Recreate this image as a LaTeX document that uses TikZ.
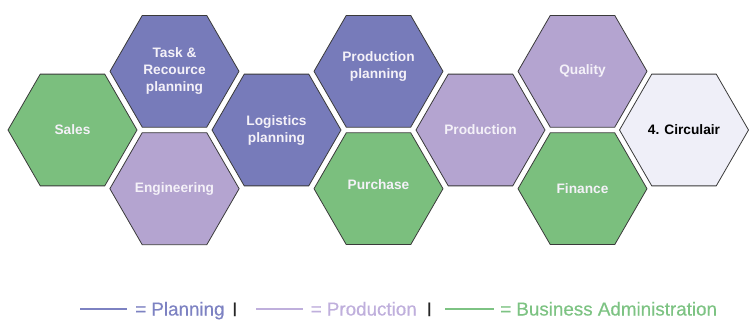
\documentclass[tikz,border=0pt]{standalone}
\usepackage{fontspec}
\setmainfont{Liberation Sans}
\newfontfamily\legfont[FakeBold=0.5]{Liberation Sans}
\usetikzlibrary{shapes.geometric}
\definecolor{plan}{HTML}{777BBA}
\definecolor{prod}{HTML}{B4A4D0}
\definecolor{biz}{HTML}{7BBF7E}
\definecolor{circ}{HTML}{EFEFF8}
\definecolor{edge}{HTML}{3A3A3A}
\definecolor{hextext}{HTML}{F4F1F8}
\definecolor{lplan}{HTML}{7D82C2}
\definecolor{lprod}{HTML}{BFAFDC}
\definecolor{lbiz}{HTML}{7DC383}
\tikzset{
  hexa/.style={regular polygon, regular polygon sides=6, minimum size=129pt,
    inner sep=0pt, draw=edge, line width=0.8pt, align=center,
    text=hextext, font=\fontsize{13.7}{17}\bfseries\selectfont},
  hplan/.style={hexa, fill=plan},
  hprod/.style={hexa, fill=prod},
  hbiz/.style={hexa, fill=biz},
  hcirc/.style={hexa, fill=circ, text=black},
  hlabel/.style={text=hextext, align=center, font=\fontsize{13.7}{17}\bfseries\selectfont},
  legtext/.style={anchor=base west, inner sep=0pt, font=\legfont\fontsize{18.8}{22}\selectfont},
  legline/.style={line width=2pt},
  sepbar/.style={anchor=base, inner sep=0pt, font=\fontsize{14.5}{16}\bfseries\selectfont, text=black!85}
}
\begin{document}
\begin{tikzpicture}[x=1pt,y=-1pt]
\useasboundingbox (0,0) rectangle (749,321);
\node[hbiz]  (sales) at (72.5,130) {Sales};
\node[hplan] (task)  at (174.5,71.3) {Task \&\\Recource\\planning};
\node[hprod] (eng)   at (174.5,188.7) {Engineering};
\node[hplan] (log)   at (276.5,130) {Logistics\\planning};
\node[hplan] (pplan) at (378.5,71.3) {};
\node[hlabel] (pplant) at (378.5,66) {Production\\planning};
\node[hbiz]  (purch) at (378.5,188.7) {};
\node[hlabel] (purcht) at (378.5,185) {Purchase};
\node[hprod] (prodn) at (480.5,130) {Production};
\node[hprod] (qual)  at (582.5,71.3) {Quality};
\node[hbiz]  (fin)   at (582.5,188.7) {Finance};
\node[hcirc] (circ)  at (684,130) {4. Circulair};
% legend
\coordinate (l1a) at (80,308.5); \coordinate (l1b) at (127,308.5);
\coordinate (l2a) at (256,308.5); \coordinate (l2b) at (303,308.5);
\coordinate (l3a) at (445,308.5); \coordinate (l3b) at (494,308.5);
\draw[legline, lplan] (l1a) -- (l1b);
\draw[legline, lprod] (l2a) -- (l2b);
\draw[legline, lbiz] (l3a) -- (l3b);
\node[legtext, text=lplan] (tplan) at (135,315.5) {= Planning};
\node[legtext, text=lprod] (tprod) at (310.5,315.5) {= Production};
\node[legtext, text=lbiz] (tbiz) at (500,315.5) {= Business Administration};
\node[sepbar] (bar1) at (235,313) {|};
\node[sepbar] (bar2) at (429.3,313) {|};
\end{tikzpicture}
\end{document}
